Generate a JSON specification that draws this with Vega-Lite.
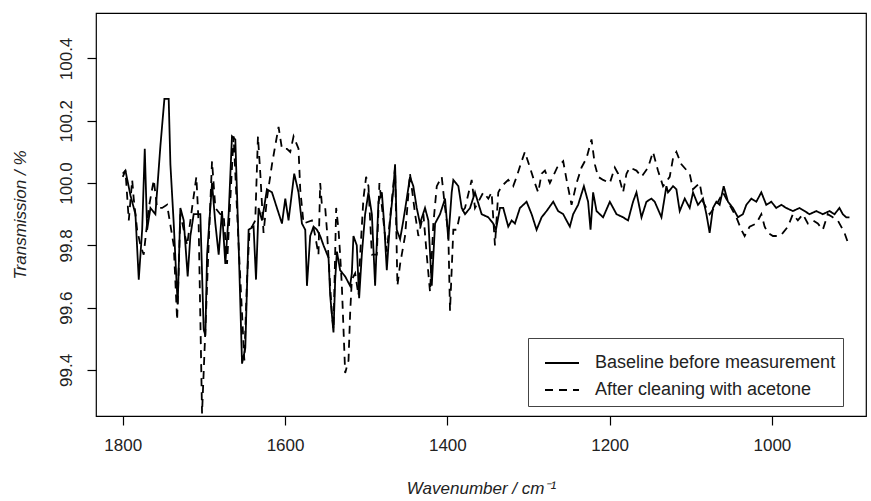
{
  "$schema": "https://vega.github.io/schema/vega-lite/v6.json",
  "width": 770,
  "height": 403,
  "autosize": "none",
  "padding": {"left": 96, "top": 13, "right": 5, "bottom": 85},
  "background": "white",
  "config": {
    "font": "Liberation Sans",
    "view": {"stroke": "black", "strokeWidth": 1.2},
    "axis": {"grid": false, "domain": false, "tickColor": "black", "tickSize": 9, "tickWidth": 1.2, "labelColor": "#222", "labelFontSize": 17, "titleFontSize": 17, "titleFontWeight": "normal", "titleColor": "#222", "titleFontStyle": "italic"}
  },
  "datasets": {
    "spec": [
      {"s":"Baseline before measurement","x":1800,"y":100.03},
      {"s":"Baseline before measurement","x":1796.7,"y":100.04},
      {"s":"Baseline before measurement","x":1790.5,"y":99.96},
      {"s":"Baseline before measurement","x":1784.4,"y":99.90},
      {"s":"Baseline before measurement","x":1780.3,"y":99.69},
      {"s":"Baseline before measurement","x":1776.1,"y":99.85},
      {"s":"Baseline before measurement","x":1772.9,"y":100.11},
      {"s":"Baseline before measurement","x":1770.0,"y":99.85},
      {"s":"Baseline before measurement","x":1765.9,"y":99.92},
      {"s":"Baseline before measurement","x":1759.8,"y":99.90},
      {"s":"Baseline before measurement","x":1753.6,"y":100.12},
      {"s":"Baseline before measurement","x":1748.7,"y":100.27},
      {"s":"Baseline before measurement","x":1743.4,"y":100.27},
      {"s":"Baseline before measurement","x":1741.3,"y":100.06},
      {"s":"Baseline before measurement","x":1737.2,"y":99.87},
      {"s":"Baseline before measurement","x":1733.9,"y":99.69},
      {"s":"Baseline before measurement","x":1732.3,"y":99.61},
      {"s":"Baseline before measurement","x":1729.0,"y":99.92},
      {"s":"Baseline before measurement","x":1724.9,"y":99.88},
      {"s":"Baseline before measurement","x":1720.0,"y":99.70},
      {"s":"Baseline before measurement","x":1716.7,"y":99.83},
      {"s":"Baseline before measurement","x":1712.6,"y":99.90},
      {"s":"Baseline before measurement","x":1704.4,"y":99.90},
      {"s":"Baseline before measurement","x":1700.3,"y":99.53},
      {"s":"Baseline before measurement","x":1698.2,"y":99.51},
      {"s":"Baseline before measurement","x":1696.1,"y":99.77},
      {"s":"Baseline before measurement","x":1690.0,"y":100.00},
      {"s":"Baseline before measurement","x":1685.9,"y":99.87},
      {"s":"Baseline before measurement","x":1681.8,"y":99.77},
      {"s":"Baseline before measurement","x":1677.7,"y":99.91},
      {"s":"Baseline before measurement","x":1673.6,"y":99.74},
      {"s":"Baseline before measurement","x":1669.5,"y":99.90},
      {"s":"Baseline before measurement","x":1665.4,"y":100.15},
      {"s":"Baseline before measurement","x":1661.3,"y":100.14},
      {"s":"Baseline before measurement","x":1657.2,"y":99.80},
      {"s":"Baseline before measurement","x":1653.0,"y":99.42},
      {"s":"Baseline before measurement","x":1649.0,"y":99.47},
      {"s":"Baseline before measurement","x":1644.9,"y":99.85},
      {"s":"Baseline before measurement","x":1638.8,"y":99.86},
      {"s":"Baseline before measurement","x":1635.8,"y":99.69},
      {"s":"Baseline before measurement","x":1632.6,"y":99.92},
      {"s":"Baseline before measurement","x":1628.4,"y":99.88},
      {"s":"Baseline before measurement","x":1622.3,"y":99.98},
      {"s":"Baseline before measurement","x":1616.1,"y":99.97},
      {"s":"Baseline before measurement","x":1610.0,"y":99.92},
      {"s":"Baseline before measurement","x":1603.8,"y":99.87},
      {"s":"Baseline before measurement","x":1599.7,"y":99.95},
      {"s":"Baseline before measurement","x":1595.7,"y":99.88},
      {"s":"Baseline before measurement","x":1588.7,"y":100.03},
      {"s":"Baseline before measurement","x":1583.4,"y":99.97},
      {"s":"Baseline before measurement","x":1579.2,"y":99.87},
      {"s":"Baseline before measurement","x":1575.1,"y":99.85},
      {"s":"Baseline before measurement","x":1573.0,"y":99.67},
      {"s":"Baseline before measurement","x":1569.0,"y":99.83},
      {"s":"Baseline before measurement","x":1564.9,"y":99.86},
      {"s":"Baseline before measurement","x":1560.7,"y":99.85},
      {"s":"Baseline before measurement","x":1556.7,"y":99.83},
      {"s":"Baseline before measurement","x":1552.6,"y":99.80},
      {"s":"Baseline before measurement","x":1546.4,"y":99.76},
      {"s":"Baseline before measurement","x":1544.4,"y":99.64},
      {"s":"Baseline before measurement","x":1540.3,"y":99.52},
      {"s":"Baseline before measurement","x":1538.2,"y":99.69},
      {"s":"Baseline before measurement","x":1536.1,"y":99.78},
      {"s":"Baseline before measurement","x":1532.1,"y":99.72},
      {"s":"Baseline before measurement","x":1525.9,"y":99.70},
      {"s":"Baseline before measurement","x":1519.8,"y":99.67},
      {"s":"Baseline before measurement","x":1517.7,"y":99.71},
      {"s":"Baseline before measurement","x":1515.7,"y":99.83},
      {"s":"Baseline before measurement","x":1511.6,"y":99.80},
      {"s":"Baseline before measurement","x":1508.7,"y":99.63},
      {"s":"Baseline before measurement","x":1505.4,"y":99.77},
      {"s":"Baseline before measurement","x":1501.3,"y":99.90},
      {"s":"Baseline before measurement","x":1497.2,"y":99.97},
      {"s":"Baseline before measurement","x":1493.0,"y":99.90},
      {"s":"Baseline before measurement","x":1489.0,"y":99.67},
      {"s":"Baseline before measurement","x":1484.9,"y":99.94},
      {"s":"Baseline before measurement","x":1480.7,"y":99.97},
      {"s":"Baseline before measurement","x":1477.9,"y":99.87},
      {"s":"Baseline before measurement","x":1474.6,"y":99.72},
      {"s":"Baseline before measurement","x":1470.5,"y":99.88},
      {"s":"Baseline before measurement","x":1466.5,"y":99.98},
      {"s":"Baseline before measurement","x":1464.4,"y":100.06},
      {"s":"Baseline before measurement","x":1462.3,"y":99.85},
      {"s":"Baseline before measurement","x":1458.2,"y":99.82},
      {"s":"Baseline before measurement","x":1454.2,"y":99.88},
      {"s":"Baseline before measurement","x":1450.0,"y":99.95},
      {"s":"Baseline before measurement","x":1446.0,"y":100.02},
      {"s":"Baseline before measurement","x":1441.9,"y":99.99},
      {"s":"Baseline before measurement","x":1437.7,"y":99.92},
      {"s":"Baseline before measurement","x":1433.7,"y":99.87},
      {"s":"Baseline before measurement","x":1427.5,"y":99.92},
      {"s":"Baseline before measurement","x":1423.4,"y":99.88},
      {"s":"Baseline before measurement","x":1419.2,"y":99.67},
      {"s":"Baseline before measurement","x":1415.1,"y":99.87},
      {"s":"Baseline before measurement","x":1409.0,"y":99.90},
      {"s":"Baseline before measurement","x":1402.8,"y":99.95},
      {"s":"Baseline before measurement","x":1398.8,"y":99.82},
      {"s":"Baseline before measurement","x":1394.6,"y":99.97},
      {"s":"Baseline before measurement","x":1392.6,"y":100.01},
      {"s":"Baseline before measurement","x":1386.4,"y":99.99},
      {"s":"Baseline before measurement","x":1382.3,"y":99.92},
      {"s":"Baseline before measurement","x":1378.2,"y":99.90},
      {"s":"Baseline before measurement","x":1372.0,"y":99.92},
      {"s":"Baseline before measurement","x":1365.9,"y":99.97},
      {"s":"Baseline before measurement","x":1357.7,"y":99.90},
      {"s":"Baseline before measurement","x":1349.5,"y":99.89},
      {"s":"Baseline before measurement","x":1343.4,"y":99.87},
      {"s":"Baseline before measurement","x":1340.1,"y":99.85},
      {"s":"Baseline before measurement","x":1335.1,"y":99.92},
      {"s":"Baseline before measurement","x":1331.1,"y":99.92},
      {"s":"Baseline before measurement","x":1324.9,"y":99.86},
      {"s":"Baseline before measurement","x":1320.7,"y":99.88},
      {"s":"Baseline before measurement","x":1316.7,"y":99.87},
      {"s":"Baseline before measurement","x":1310.5,"y":99.92},
      {"s":"Baseline before measurement","x":1302.3,"y":99.94},
      {"s":"Baseline before measurement","x":1296.1,"y":99.90},
      {"s":"Baseline before measurement","x":1290.0,"y":99.85},
      {"s":"Baseline before measurement","x":1283.8,"y":99.89},
      {"s":"Baseline before measurement","x":1277.7,"y":99.91},
      {"s":"Baseline before measurement","x":1269.5,"y":99.94},
      {"s":"Baseline before measurement","x":1263.4,"y":99.91},
      {"s":"Baseline before measurement","x":1257.2,"y":99.90},
      {"s":"Baseline before measurement","x":1249.0,"y":99.86},
      {"s":"Baseline before measurement","x":1244.9,"y":99.90},
      {"s":"Baseline before measurement","x":1238.8,"y":99.93},
      {"s":"Baseline before measurement","x":1231.7,"y":99.99},
      {"s":"Baseline before measurement","x":1226.5,"y":99.94},
      {"s":"Baseline before measurement","x":1223.5,"y":99.85},
      {"s":"Baseline before measurement","x":1220.3,"y":99.97},
      {"s":"Baseline before measurement","x":1216.1,"y":99.91},
      {"s":"Baseline before measurement","x":1208.0,"y":99.89},
      {"s":"Baseline before measurement","x":1199.7,"y":99.94},
      {"s":"Baseline before measurement","x":1191.5,"y":99.90},
      {"s":"Baseline before measurement","x":1183.4,"y":99.89},
      {"s":"Baseline before measurement","x":1177.2,"y":99.88},
      {"s":"Baseline before measurement","x":1171.1,"y":99.94},
      {"s":"Baseline before measurement","x":1166.9,"y":99.97},
      {"s":"Baseline before measurement","x":1160.7,"y":99.89},
      {"s":"Baseline before measurement","x":1154.6,"y":99.94},
      {"s":"Baseline before measurement","x":1148.4,"y":99.95},
      {"s":"Baseline before measurement","x":1144.4,"y":99.94},
      {"s":"Baseline before measurement","x":1136.1,"y":99.89},
      {"s":"Baseline before measurement","x":1130.0,"y":99.99},
      {"s":"Baseline before measurement","x":1128.0,"y":99.97},
      {"s":"Baseline before measurement","x":1121.8,"y":99.99},
      {"s":"Baseline before measurement","x":1117.7,"y":99.98},
      {"s":"Baseline before measurement","x":1113.6,"y":99.91},
      {"s":"Baseline before measurement","x":1107.4,"y":99.95},
      {"s":"Baseline before measurement","x":1101.3,"y":99.92},
      {"s":"Baseline before measurement","x":1097.2,"y":99.97},
      {"s":"Baseline before measurement","x":1091.1,"y":99.93},
      {"s":"Baseline before measurement","x":1084.9,"y":99.95},
      {"s":"Baseline before measurement","x":1080.7,"y":99.90},
      {"s":"Baseline before measurement","x":1076.7,"y":99.84},
      {"s":"Baseline before measurement","x":1072.6,"y":99.92},
      {"s":"Baseline before measurement","x":1068.4,"y":99.94},
      {"s":"Baseline before measurement","x":1064.4,"y":99.93},
      {"s":"Baseline before measurement","x":1059.4,"y":99.99},
      {"s":"Baseline before measurement","x":1054.1,"y":99.94},
      {"s":"Baseline before measurement","x":1048.0,"y":99.92},
      {"s":"Baseline before measurement","x":1041.8,"y":99.89},
      {"s":"Baseline before measurement","x":1035.7,"y":99.90},
      {"s":"Baseline before measurement","x":1031.5,"y":99.93},
      {"s":"Baseline before measurement","x":1025.3,"y":99.95},
      {"s":"Baseline before measurement","x":1019.2,"y":99.94},
      {"s":"Baseline before measurement","x":1013.0,"y":99.97},
      {"s":"Baseline before measurement","x":1006.9,"y":99.93},
      {"s":"Baseline before measurement","x":1000.7,"y":99.94},
      {"s":"Baseline before measurement","x":994.6,"y":99.92},
      {"s":"Baseline before measurement","x":988.4,"y":99.93},
      {"s":"Baseline before measurement","x":982.3,"y":99.92},
      {"s":"Baseline before measurement","x":974.1,"y":99.91},
      {"s":"Baseline before measurement","x":965.9,"y":99.92},
      {"s":"Baseline before measurement","x":959.7,"y":99.91},
      {"s":"Baseline before measurement","x":953.6,"y":99.90},
      {"s":"Baseline before measurement","x":945.3,"y":99.91},
      {"s":"Baseline before measurement","x":937.2,"y":99.90},
      {"s":"Baseline before measurement","x":929.0,"y":99.91},
      {"s":"Baseline before measurement","x":922.8,"y":99.90},
      {"s":"Baseline before measurement","x":916.7,"y":99.92},
      {"s":"Baseline before measurement","x":912.6,"y":99.90},
      {"s":"Baseline before measurement","x":908.4,"y":99.89},
      {"s":"Baseline before measurement","x":904.4,"y":99.89},
      {"s":"After cleaning with acetone","x":1800,"y":100.02},
      {"s":"After cleaning with acetone","x":1796.7,"y":100.04},
      {"s":"After cleaning with acetone","x":1792.6,"y":99.88},
      {"s":"After cleaning with acetone","x":1788.4,"y":100.01},
      {"s":"After cleaning with acetone","x":1786.5,"y":99.95},
      {"s":"After cleaning with acetone","x":1782.3,"y":99.85},
      {"s":"After cleaning with acetone","x":1778.2,"y":99.80},
      {"s":"After cleaning with acetone","x":1774.2,"y":99.77},
      {"s":"After cleaning with acetone","x":1768.0,"y":99.92},
      {"s":"After cleaning with acetone","x":1761.8,"y":100.01},
      {"s":"After cleaning with acetone","x":1757.7,"y":99.92},
      {"s":"After cleaning with acetone","x":1751.5,"y":99.92},
      {"s":"After cleaning with acetone","x":1745.4,"y":99.93},
      {"s":"After cleaning with acetone","x":1737.2,"y":99.80},
      {"s":"After cleaning with acetone","x":1733.0,"y":99.56},
      {"s":"After cleaning with acetone","x":1729.0,"y":99.90},
      {"s":"After cleaning with acetone","x":1720.7,"y":99.80},
      {"s":"After cleaning with acetone","x":1714.6,"y":99.92},
      {"s":"After cleaning with acetone","x":1709.3,"y":100.02},
      {"s":"After cleaning with acetone","x":1706.5,"y":99.87},
      {"s":"After cleaning with acetone","x":1702.3,"y":99.26},
      {"s":"After cleaning with acetone","x":1698.2,"y":99.53},
      {"s":"After cleaning with acetone","x":1694.2,"y":99.80},
      {"s":"After cleaning with acetone","x":1690.0,"y":100.07},
      {"s":"After cleaning with acetone","x":1685.9,"y":99.92},
      {"s":"After cleaning with acetone","x":1679.8,"y":99.90},
      {"s":"After cleaning with acetone","x":1675.7,"y":99.90},
      {"s":"After cleaning with acetone","x":1671.5,"y":99.74},
      {"s":"After cleaning with acetone","x":1667.4,"y":99.95},
      {"s":"After cleaning with acetone","x":1663.4,"y":100.15},
      {"s":"After cleaning with acetone","x":1657.2,"y":99.80},
      {"s":"After cleaning with acetone","x":1653.0,"y":99.58},
      {"s":"After cleaning with acetone","x":1650.2,"y":99.43},
      {"s":"After cleaning with acetone","x":1646.9,"y":99.69},
      {"s":"After cleaning with acetone","x":1643.7,"y":99.85},
      {"s":"After cleaning with acetone","x":1640.7,"y":99.86},
      {"s":"After cleaning with acetone","x":1636.7,"y":99.88},
      {"s":"After cleaning with acetone","x":1633.4,"y":100.15},
      {"s":"After cleaning with acetone","x":1630.5,"y":100.03},
      {"s":"After cleaning with acetone","x":1626.5,"y":99.84},
      {"s":"After cleaning with acetone","x":1622.3,"y":99.95},
      {"s":"After cleaning with acetone","x":1616.1,"y":100.06},
      {"s":"After cleaning with acetone","x":1612.1,"y":100.12},
      {"s":"After cleaning with acetone","x":1608.0,"y":100.18},
      {"s":"After cleaning with acetone","x":1603.8,"y":100.11},
      {"s":"After cleaning with acetone","x":1597.7,"y":100.11},
      {"s":"After cleaning with acetone","x":1593.6,"y":100.10},
      {"s":"After cleaning with acetone","x":1589.5,"y":100.15},
      {"s":"After cleaning with acetone","x":1583.4,"y":100.11},
      {"s":"After cleaning with acetone","x":1581.3,"y":99.98},
      {"s":"After cleaning with acetone","x":1577.2,"y":99.87},
      {"s":"After cleaning with acetone","x":1566.9,"y":99.88},
      {"s":"After cleaning with acetone","x":1562.8,"y":99.83},
      {"s":"After cleaning with acetone","x":1558.8,"y":99.77},
      {"s":"After cleaning with acetone","x":1556.7,"y":100.00},
      {"s":"After cleaning with acetone","x":1554.6,"y":99.93},
      {"s":"After cleaning with acetone","x":1550.5,"y":99.92},
      {"s":"After cleaning with acetone","x":1548.4,"y":99.85},
      {"s":"After cleaning with acetone","x":1544.4,"y":99.67},
      {"s":"After cleaning with acetone","x":1542.3,"y":99.58},
      {"s":"After cleaning with acetone","x":1540.3,"y":99.53},
      {"s":"After cleaning with acetone","x":1537.0,"y":99.92},
      {"s":"After cleaning with acetone","x":1534.1,"y":99.85},
      {"s":"After cleaning with acetone","x":1532.1,"y":99.77},
      {"s":"After cleaning with acetone","x":1530.0,"y":99.67},
      {"s":"After cleaning with acetone","x":1525.9,"y":99.39},
      {"s":"After cleaning with acetone","x":1521.8,"y":99.43},
      {"s":"After cleaning with acetone","x":1519.8,"y":99.58},
      {"s":"After cleaning with acetone","x":1517.7,"y":99.69},
      {"s":"After cleaning with acetone","x":1513.6,"y":99.71},
      {"s":"After cleaning with acetone","x":1509.5,"y":99.64},
      {"s":"After cleaning with acetone","x":1507.4,"y":99.77},
      {"s":"After cleaning with acetone","x":1503.4,"y":99.95},
      {"s":"After cleaning with acetone","x":1500.1,"y":100.02},
      {"s":"After cleaning with acetone","x":1497.2,"y":99.99},
      {"s":"After cleaning with acetone","x":1493.0,"y":99.77},
      {"s":"After cleaning with acetone","x":1486.9,"y":99.77},
      {"s":"After cleaning with acetone","x":1483.7,"y":100.00},
      {"s":"After cleaning with acetone","x":1478.8,"y":99.88},
      {"s":"After cleaning with acetone","x":1474.6,"y":99.78},
      {"s":"After cleaning with acetone","x":1464.4,"y":100.05},
      {"s":"After cleaning with acetone","x":1461.5,"y":99.67},
      {"s":"After cleaning with acetone","x":1458.2,"y":99.74},
      {"s":"After cleaning with acetone","x":1452.1,"y":99.83},
      {"s":"After cleaning with acetone","x":1446.0,"y":100.03},
      {"s":"After cleaning with acetone","x":1439.7,"y":99.90},
      {"s":"After cleaning with acetone","x":1435.7,"y":99.83},
      {"s":"After cleaning with acetone","x":1429.5,"y":99.90},
      {"s":"After cleaning with acetone","x":1425.4,"y":99.77},
      {"s":"After cleaning with acetone","x":1421.3,"y":99.65},
      {"s":"After cleaning with acetone","x":1417.2,"y":99.87},
      {"s":"After cleaning with acetone","x":1413.0,"y":99.99},
      {"s":"After cleaning with acetone","x":1406.9,"y":100.02},
      {"s":"After cleaning with acetone","x":1402.8,"y":99.92},
      {"s":"After cleaning with acetone","x":1398.8,"y":99.84},
      {"s":"After cleaning with acetone","x":1396.7,"y":99.59},
      {"s":"After cleaning with acetone","x":1392.6,"y":99.85},
      {"s":"After cleaning with acetone","x":1388.4,"y":99.85},
      {"s":"After cleaning with acetone","x":1384.4,"y":99.90},
      {"s":"After cleaning with acetone","x":1378.2,"y":99.92},
      {"s":"After cleaning with acetone","x":1370.0,"y":100.01},
      {"s":"After cleaning with acetone","x":1365.9,"y":99.92},
      {"s":"After cleaning with acetone","x":1359.7,"y":99.95},
      {"s":"After cleaning with acetone","x":1355.7,"y":99.97},
      {"s":"After cleaning with acetone","x":1349.5,"y":99.95},
      {"s":"After cleaning with acetone","x":1345.4,"y":99.97},
      {"s":"After cleaning with acetone","x":1341.3,"y":99.80},
      {"s":"After cleaning with acetone","x":1337.2,"y":99.97},
      {"s":"After cleaning with acetone","x":1333.0,"y":99.99},
      {"s":"After cleaning with acetone","x":1324.9,"y":100.01},
      {"s":"After cleaning with acetone","x":1318.8,"y":99.99},
      {"s":"After cleaning with acetone","x":1314.6,"y":100.02},
      {"s":"After cleaning with acetone","x":1308.4,"y":100.07},
      {"s":"After cleaning with acetone","x":1304.4,"y":100.10},
      {"s":"After cleaning with acetone","x":1298.2,"y":100.05},
      {"s":"After cleaning with acetone","x":1292.1,"y":100.00},
      {"s":"After cleaning with acetone","x":1288.0,"y":99.97},
      {"s":"After cleaning with acetone","x":1283.8,"y":100.03},
      {"s":"After cleaning with acetone","x":1279.7,"y":100.04},
      {"s":"After cleaning with acetone","x":1273.6,"y":100.00},
      {"s":"After cleaning with acetone","x":1264.6,"y":100.05},
      {"s":"After cleaning with acetone","x":1257.2,"y":100.07},
      {"s":"After cleaning with acetone","x":1253.0,"y":100.01},
      {"s":"After cleaning with acetone","x":1246.9,"y":99.93},
      {"s":"After cleaning with acetone","x":1240.7,"y":100.00},
      {"s":"After cleaning with acetone","x":1234.6,"y":100.05},
      {"s":"After cleaning with acetone","x":1228.4,"y":100.08},
      {"s":"After cleaning with acetone","x":1222.3,"y":100.14},
      {"s":"After cleaning with acetone","x":1218.2,"y":100.06},
      {"s":"After cleaning with acetone","x":1214.1,"y":100.02},
      {"s":"After cleaning with acetone","x":1208.0,"y":100.01},
      {"s":"After cleaning with acetone","x":1199.7,"y":100.00},
      {"s":"After cleaning with acetone","x":1193.6,"y":100.05},
      {"s":"After cleaning with acetone","x":1189.5,"y":100.03},
      {"s":"After cleaning with acetone","x":1183.4,"y":99.97},
      {"s":"After cleaning with acetone","x":1179.2,"y":100.03},
      {"s":"After cleaning with acetone","x":1175.1,"y":100.05},
      {"s":"After cleaning with acetone","x":1166.9,"y":100.04},
      {"s":"After cleaning with acetone","x":1160.7,"y":100.02},
      {"s":"After cleaning with acetone","x":1152.6,"y":100.05},
      {"s":"After cleaning with acetone","x":1146.5,"y":100.10},
      {"s":"After cleaning with acetone","x":1140.4,"y":100.04},
      {"s":"After cleaning with acetone","x":1134.1,"y":99.99},
      {"s":"After cleaning with acetone","x":1125.9,"y":100.02},
      {"s":"After cleaning with acetone","x":1121.8,"y":100.08},
      {"s":"After cleaning with acetone","x":1117.7,"y":100.10},
      {"s":"After cleaning with acetone","x":1111.5,"y":100.06},
      {"s":"After cleaning with acetone","x":1101.3,"y":100.03},
      {"s":"After cleaning with acetone","x":1097.2,"y":99.98},
      {"s":"After cleaning with acetone","x":1089.0,"y":100.00},
      {"s":"After cleaning with acetone","x":1084.9,"y":99.94},
      {"s":"After cleaning with acetone","x":1076.7,"y":99.90},
      {"s":"After cleaning with acetone","x":1068.4,"y":99.93},
      {"s":"After cleaning with acetone","x":1060.3,"y":99.97},
      {"s":"After cleaning with acetone","x":1052.1,"y":99.93},
      {"s":"After cleaning with acetone","x":1043.8,"y":99.89},
      {"s":"After cleaning with acetone","x":1037.7,"y":99.85},
      {"s":"After cleaning with acetone","x":1033.6,"y":99.83},
      {"s":"After cleaning with acetone","x":1027.4,"y":99.86},
      {"s":"After cleaning with acetone","x":1019.2,"y":99.87},
      {"s":"After cleaning with acetone","x":1013.0,"y":99.90},
      {"s":"After cleaning with acetone","x":1008.9,"y":99.86},
      {"s":"After cleaning with acetone","x":1004.9,"y":99.84},
      {"s":"After cleaning with acetone","x":998.7,"y":99.83},
      {"s":"After cleaning with acetone","x":990.5,"y":99.83},
      {"s":"After cleaning with acetone","x":986.4,"y":99.84},
      {"s":"After cleaning with acetone","x":980.3,"y":99.86},
      {"s":"After cleaning with acetone","x":974.1,"y":99.90},
      {"s":"After cleaning with acetone","x":968.0,"y":99.88},
      {"s":"After cleaning with acetone","x":961.8,"y":99.90},
      {"s":"After cleaning with acetone","x":955.7,"y":99.87},
      {"s":"After cleaning with acetone","x":949.5,"y":99.88},
      {"s":"After cleaning with acetone","x":943.4,"y":99.87},
      {"s":"After cleaning with acetone","x":937.2,"y":99.85},
      {"s":"After cleaning with acetone","x":931.1,"y":99.90},
      {"s":"After cleaning with acetone","x":924.9,"y":99.89},
      {"s":"After cleaning with acetone","x":918.8,"y":99.88},
      {"s":"After cleaning with acetone","x":914.6,"y":99.86},
      {"s":"After cleaning with acetone","x":910.5,"y":99.84},
      {"s":"After cleaning with acetone","x":906.5,"y":99.81}
    ]
  },
  "data": {"name": "spec"},
  "mark": {"type": "line", "color": "black", "strokeWidth": 1.8, "clip": true, "interpolate": "linear"},
  "encoding": {
    "x": {
      "field": "x", "type": "quantitative",
      "scale": {"domain": [884, 1833], "reverse": true, "nice": false, "zero": false},
      "axis": {"values": [1800, 1600, 1400, 1200, 1000], "format": "d", "labelPadding": 12, "title": "Wavenumber / cm⁻¹", "titlePadding": 27}
    },
    "y": {
      "field": "y", "type": "quantitative",
      "scale": {"domain": [99.252, 100.546], "nice": false, "zero": false},
      "axis": {"values": [99.4, 99.6, 99.8, 100.0, 100.2, 100.4], "format": ".1f", "labelAngle": -90, "labelAlign": "center", "labelBaseline": "bottom", "labelPadding": 12, "title": "Transmission / %", "titlePadding": 28}
    },
    "strokeDash": {
      "field": "s", "type": "nominal",
      "scale": {"domain": ["Baseline before measurement", "After cleaning with acetone"], "range": [[1, 0], [8, 6]]},
      "legend": {
        "title": null, "orient": "none", "legendX": 432, "legendY": 325,
        "strokeColor": "#444", "padding": 7, "symbolType": "stroke", "symbolSize": 1156,
        "symbolStrokeColor": "black", "symbolStrokeWidth": 2, "labelFontSize": 18, "labelColor": "#222",
        "labelOffset": 15, "labelLimit": 0, "rowPadding": -17, "symbolOffset": 9
      }
    }
  }
}
